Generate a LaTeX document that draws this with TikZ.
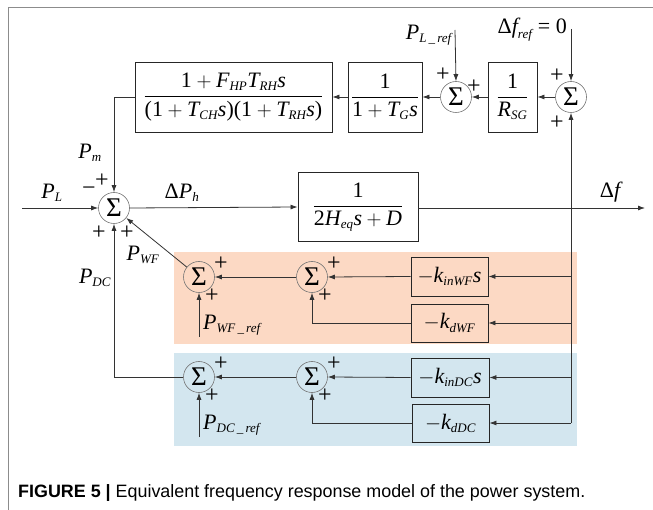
\documentclass[tikz,border=0pt]{standalone}
\usepackage{amsmath}
\usepackage{fontspec}
\setmainfont{Liberation Serif}
\newfontfamily\capfont{Liberation Sans}
\usetikzlibrary{arrows.meta}
\definecolor{bandor}{HTML}{FCD9C4}
\definecolor{bandbl}{HTML}{D3E6EF}
\DeclareMathSizes{22}{22}{13}{10}
\newcommand{\mi}[1]{\text{\normalfont\itshape #1}}
\newcommand{\up}[1]{\text{\normalfont #1}}
\begin{document}
\begin{tikzpicture}[x=1pt,y=-1pt,
  every node/.style={font=\fontsize{22}{24}\selectfont},
  blk/.style={draw=black!85, line width=0.9pt, inner sep=0pt, anchor=center},
  sumc/.style={draw=black!55, circle, minimum size=31pt, inner sep=0pt, line width=0.6pt, font=\fontsize{27}{27}\selectfont},
  sig/.style={draw=black!80, line width=0.8pt},
  arr/.style={sig, -{Latex[length=7pt,width=5pt]}},
  pm/.style={font=\fontsize{24}{24}\selectfont, inner sep=0pt},
  lab/.style={inner sep=0pt}]
\useasboundingbox (0,0) rectangle (653,510);
% frame
\draw[black!45, line width=1pt] (8,510) -- (8,8) -- (653,8);
% bands
\fill[bandor] (174,252) rectangle (577,344);
\fill[bandbl] (174,353) rectangle (577,446);
% blocks
\node[blk, minimum width=197pt, minimum height=70pt] (turb) at (233.5,97) {$\dfrac{\up{1}+\mi{F}_{\mi{HP}}\mi{T}_{\mi{RH}}\mi{s}}{\up{(1}+\mi{T}_{\mi{CH}}\mi{s}\up{)(1}+\mi{T}_{\mi{RH}}\mi{s}\up{)}}$};
\node[blk, minimum width=74pt, minimum height=70pt] (gov) at (385,97) {$\dfrac{\up{1}}{\up{1}+\mi{T}_{\mi{G}}\mi{s}}$};
\node[blk, minimum width=49pt, minimum height=70pt] (rsg) at (512.5,97) {$\dfrac{\up{1}}{\mi{R}_{\mi{SG}}}$};
\node[blk, minimum width=120pt, minimum height=69pt] (plant) at (358,207) {$\dfrac{\up{1}}{\up{2}\mi{H}_{\mi{eq}}\mi{s}+\mi{D}}$};
\node[blk, minimum width=77pt, minimum height=39pt] (kinWF) at (449.5,276.5) {$-\mi{k}_{\mi{inWF}}\mi{s}$};
\node[blk, minimum width=77pt, minimum height=38pt] (kdWF) at (449.5,323) {$-\mi{k}_{\mi{dWF}}$};
\node[blk, minimum width=78pt, minimum height=39pt] (kinDC) at (450,377.5) {$-\mi{k}_{\mi{inDC}}\mi{s}$};
\node[blk, minimum width=77pt, minimum height=38pt] (kdDC) at (450.5,423) {$-\mi{k}_{\mi{dDC}}$};
% sums
\node[sumc] (main) at (114,208) {Σ};
\node[sumc] (sTR) at (571,97) {Σ};
\node[sumc] (sM) at (456,97) {Σ};
\node[sumc] (sW1) at (199,277) {Σ};
\node[sumc] (sW2) at (312,277) {Σ};
\node[sumc] (sD1) at (199,377) {Σ};
\node[sumc] (sD2) at (312,377) {Σ};
% coordinates
\coordinate (plin) at (22,208);
\coordinate (fout) at (645,208);
\coordinate (fbbot) at (571,423);
\coordinate (dfref) at (571,29);
\coordinate (plref) at (455,30);
\coordinate (pwfref) at (199,337);
\coordinate (pdcref) at (199,437);
% top loop
\draw[arr] (dfref) -- (sTR.north);
\draw[arr] (plref) -- (sM.north);
\draw[arr] (sTR.west) -- (rsg.east);
\draw[arr] (rsg.west) -- (sM.east);
\draw[arr] (sM.west) -- (gov.east);
\draw[arr] (gov.west) -- (turb.east);
\draw[arr] (turb.west) -| (main.north);
% main path
\draw[arr] (plin) -- (main.west);
\draw[arr] (main.east) -- (plant.west);
\draw[arr] (plant.east |- main.east) -- (fout);
% feedback
\draw[arr] (fbbot) -- (sTR.south);
\draw[arr] (fbbot) -- (kdDC.east);
\draw[arr] (fbbot |- kinDC.east) -- (kinDC.east);
\draw[arr] (fbbot |- kdWF.east) -- (kdWF.east);
\draw[arr] (fbbot |- kinWF.east) -- (kinWF.east);
% WF branch
\draw[arr] (kinWF.west) -- (sW2.east);
\draw[arr] (sW2.west) -- (sW1.east);
\draw[arr] (kdWF.west) -| (sW2.south);
\draw[arr] (pwfref) -- (sW1.south);
\draw[arr] (sW1) -- (main);
% DC branch
\draw[arr] (kinDC.west) -- (sD2.east);
\draw[arr] (sD2.west) -- (sD1.east);
\draw[arr] (kdDC.west) -| (sD2.south);
\draw[arr] (pdcref) -- (sD1.south);
\draw[arr] (sD1.west) -| (main.south);
% labels
\node[lab] (lPL) at (52,193) {$\mi{P}_{\mi{L}}$};
\node[lab] (lPm) at (90,153) {$\mi{P}_{\mi{m}}$};
\node[lab] (lDPh) at (182,193) {$\up{Δ}\mi{P}_{\mi{h}}$};
\node[lab] (lDf) at (610,192) {$\up{Δ}\mi{f}$};
\node[lab] (lPWF) at (143,255) {$\mi{P}_{\mi{WF}}$};
\node[lab] (lPDC) at (95,278) {$\mi{P}_{\mi{DC}}$};
\node[lab, anchor=west] (lPWFr) at (203,325) {$\mi{P}_{\mi{WF\,\_\,ref}}$};
\node[lab, anchor=west] (lPDCr) at (203,425) {$\mi{P}_{\mi{DC\,\_\,ref}}$};
\node[lab, anchor=east] (lPLr) at (452,35) {$\mi{P}_{\mi{L\,\_\,ref}}$};
\node[lab, anchor=east] (lDfr) at (567,30) {$\up{Δ}\mi{f}_{\mi{ref}}\up{ = 0}$};
% signs
\node[pm] (m1) at (89,191) {−};
\node[pm] (p1) at (102,181) {+};
\node[pm] (p2) at (99,233) {+};
\node[pm] (p3) at (127,233) {+};
\node[pm] (p4) at (557,76) {+};
\node[pm] (p5) at (557,123) {+};
\node[pm] (p6) at (443,75) {+};
\node[pm] (p7) at (474,87) {+};
\node[pm] (p8) at (221,264) {+};
\node[pm] (p9) at (212,296) {+};
\node[pm] (p10) at (334,264) {+};
\node[pm] (p11) at (325,296) {+};
\node[pm] (p12) at (221,364) {+};
\node[pm] (p13) at (212,396) {+};
\node[pm] (p14) at (334,364) {+};
\node[pm] (p15) at (325,396) {+};
% caption
\node[anchor=west, inner sep=0pt, font=\capfont\fontsize{17.9}{20}\selectfont] (cap) at (18,493) {\textbf{FIGURE 5 |} Equivalent frequency response model of the power system.};
\end{tikzpicture}
\end{document}
